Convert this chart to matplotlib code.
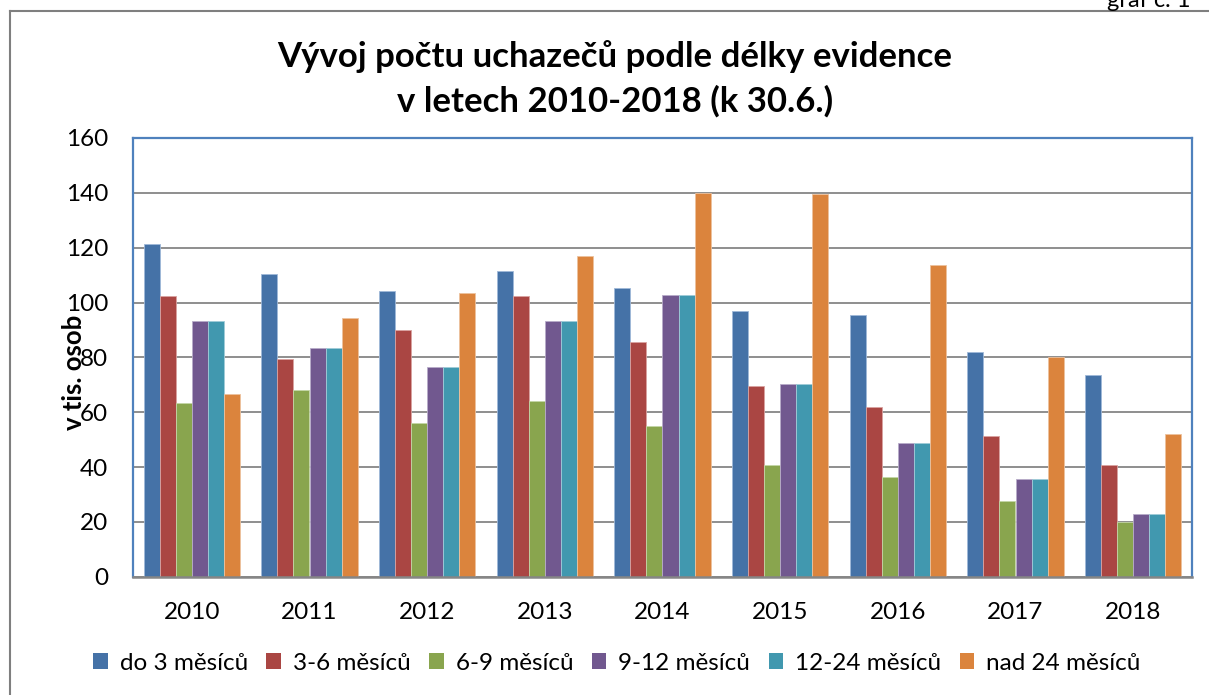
import matplotlib
matplotlib.use("Agg")
import matplotlib.pyplot as plt
from matplotlib.lines import Line2D
import numpy as np

years = ["2010", "2011", "2012", "2013", "2014", "2015", "2016", "2017", "2018"]
series_names = ["do 3 měsíců", "3-6 měsíců", "6-9 měsíců", "9-12 měsíců", "12-24 měsíců", "nad 24 měsíců"]
do3 = [121.4, 110.5, 104.3, 111.4, 105.2, 97.0, 95.3, 81.9, 73.7]
m3_6 = [102.2, 79.5, 89.8, 102.5, 85.7, 69.4, 62.0, 51.2, 40.7]
m6_9 = [63.4, 68.2, 55.9, 63.9, 55.1, 40.7, 36.4, 27.5, 19.9]
m9_12 = [93.2, 83.3, 76.6, 93.2, 102.7, 70.2, 48.9, 35.8, 22.8]
m12_24 = [93.2, 83.3, 76.6, 93.2, 102.7, 70.2, 48.9, 35.8, 22.8]
nad24 = [66.8, 94.3, 103.6, 116.8, 140.1, 139.5, 113.8, 80.3, 51.9]
series = [do3, m3_6, m6_9, m9_12, m12_24, nad24]
colors = ["#4572A7", "#AA4643", "#89A54E", "#71588F", "#4198AF", "#DB843D"]
edges = ["#9FB8D8", "#D9A3A1", "#C4D6A6", "#B8ABC9", "#A0CCD8", "#EDC29E"]

FONT = "Lato"
plt.rcParams['font.family'] = [FONT, 'DejaVu Sans']

W, H = 1209, 695
fig = plt.figure(figsize=(W / 100, H / 100), dpi=100)
ax = fig.add_axes([133 / W, 1 - 576.7 / H, (1192 - 133) / W, (576.7 - 138) / H])

x = np.arange(len(years))
bw = 0.136
for j, (vals, c, e) in enumerate(zip(series, colors, edges)):
    ax.bar(x + (j - 2.5) * bw, vals, width=bw, color=c, edgecolor=e,
           linewidth=0.6, label=series_names[j], zorder=3)

ax.set_xlim(-0.5, len(years) - 0.5)
ax.set_ylim(0, 160)
ax.set_yticks(np.arange(0, 161, 20))
ax.set_xticks(x)
ax.set_xticklabels(years)
ax.tick_params(axis='both', length=0, labelsize=17.5, colors='black')
ax.tick_params(axis='y', pad=18)
ax.tick_params(axis='x', pad=18)
ax.yaxis.grid(True, color='#868686', linewidth=1.3, zorder=0)
ax.set_axisbelow(True)
for s in ['left', 'top', 'right']:
    ax.spines[s].set_color('#4F81BD')
    ax.spines[s].set_linewidth(1.6)
ax.spines['bottom'].set_color('#868686')
ax.spines['bottom'].set_linewidth(1.8)
ax.spines['bottom'].set_zorder(4)

fig.text(74 / W, 1 - 372 / H, "v tis. osob", rotation=90, fontsize=18.5,
         fontweight='bold', ha='center', va='center')

fig.text(615 / W, 1 - 57 / H, "Vývoj počtu uchazečů podle délky evidence",
         fontsize=25, fontweight='bold', ha='center', va='center')
fig.text(615 / W, 1 - 101 / H, "v letech 2010-2018 (k 30.6.)",
         fontsize=25, fontweight='bold', ha='center', va='center')

fig.text(1107 / W, 1 - 7 / H, "graf č. 1", fontsize=17, ha='left', va='baseline')

fig.add_artist(Line2D([10 / W, 10 / W], [0, 1 - 11 / H], color='#7F7F7F', linewidth=1.5))
fig.add_artist(Line2D([10 / W, 1], [1 - 11 / H, 1 - 11 / H], color='#7F7F7F', linewidth=1.5))

leg = fig.legend(loc='center', bbox_to_anchor=(617 / W, 1 - 663 / H), ncol=6,
                 frameon=False, fontsize=17.5, handlelength=0.6, handleheight=0.6,
                 handletextpad=0.5, columnspacing=0.75, borderaxespad=0)
for h in leg.legend_handles:
    h.set_edgecolor('none')

fig.savefig("out.png", dpi=100)
